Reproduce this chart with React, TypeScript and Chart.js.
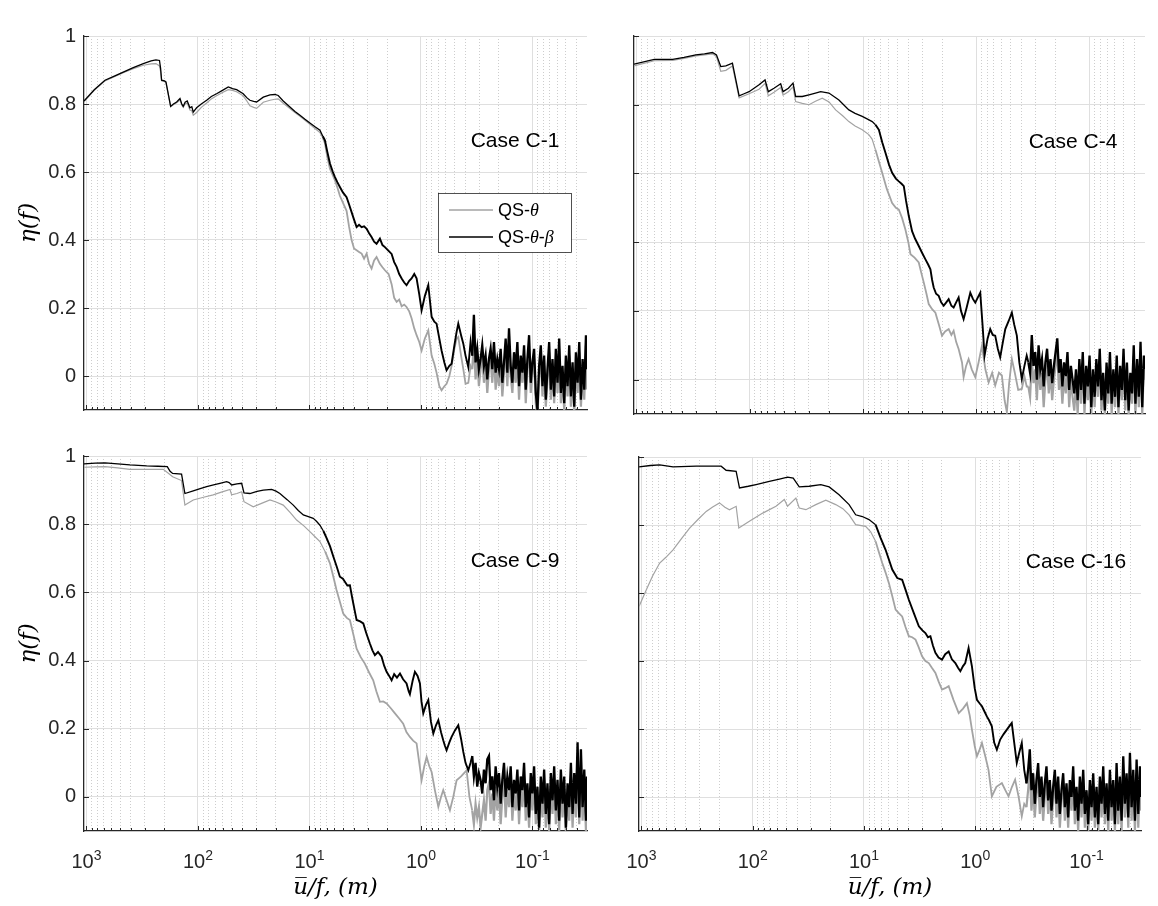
import { useEffect, useRef } from "react";
import { Chart, registerables } from "chart.js";

Chart.register(...registerables);

// u/f axis (m), drawn reversed on a log scale
const xMin = 0.0324;
const xMax = 1052;
const yMin = -0.1;
const yMax = 1;

const xTickValues = [
  1000, 900, 800, 700, 600, 500, 400, 300, 200, 100, 90, 80, 70, 60, 50, 40, 30, 20, 10, 9, 8, 7, 6, 5, 4, 3,
  2, 1, 0.9, 0.8, 0.7, 0.6, 0.5, 0.4, 0.3, 0.2, 0.1, 0.09, 0.08, 0.07, 0.06, 0.05, 0.04,
];
const decadeValues = [1000, 100, 10, 1, 0.1];
const decadeExponents = ["3", "2", "1", "0", "-1"];
const yTicks = [0, 0.2, 0.4, 0.6, 0.8, 1];

const seriesNames = ["QS-θ", "QS-θ-β"];
const caseLabels = ["Case C-1", "Case C-4", "Case C-9", "Case C-16"];

// log10(u/f) of the dense high-frequency tail shared by all curves
const noiseLogX = [
  -0.46, -0.475, -0.49, -0.505, -0.52, -0.535, -0.55, -0.565, -0.58, -0.595,
  -0.61, -0.625, -0.64, -0.655, -0.67, -0.685, -0.7, -0.715, -0.73, -0.745,
  -0.76, -0.775, -0.79, -0.805, -0.82, -0.835, -0.85, -0.865, -0.88, -0.895,
  -0.91, -0.925, -0.94, -0.955, -0.97, -0.985, -1.0, -1.015, -1.03, -1.045,
  -1.06, -1.075, -1.09, -1.105, -1.12, -1.135, -1.15, -1.165, -1.18, -1.195,
  -1.21, -1.225, -1.24, -1.255, -1.27, -1.285, -1.3, -1.315, -1.33, -1.345,
  -1.36, -1.375, -1.39, -1.405, -1.42, -1.435, -1.45, -1.465, -1.48, -1.489,
];

// [log10(u/f), eta], followed by its tail on noiseLogX

// Case C-1
const c1Theta = [
  [3.022, 0.807], [2.93, 0.84], [2.834, 0.868], [2.75, 0.88], [2.67, 0.892], [2.58, 0.904], [2.49, 0.914],
  [2.42, 0.918], [2.377, 0.919], [2.345, 0.912], [2.335, 0.895], [2.326, 0.868], [2.3, 0.866], [2.287, 0.863],
  [2.245, 0.792], [2.22, 0.798], [2.191, 0.804], [2.161, 0.812], [2.145, 0.797], [2.132, 0.79], [2.115, 0.8],
  [2.096, 0.803], [2.072, 0.782], [2.055, 0.78], [2.042, 0.767], [2.012, 0.775], [1.97, 0.79], [1.922, 0.803],
  [1.88, 0.815], [1.833, 0.824], [1.78, 0.834], [1.728, 0.842], [1.69, 0.84], [1.653, 0.836], [1.594, 0.824],
  [1.56, 0.808], [1.534, 0.795], [1.5, 0.79], [1.474, 0.787], [1.414, 0.805], [1.354, 0.811], [1.31, 0.814],
  [1.28, 0.815], [1.235, 0.802], [1.175, 0.787], [1.13, 0.775], [1.085, 0.764], [1.04, 0.752], [0.996, 0.74],
  [0.95, 0.728], [0.906, 0.716], [0.88, 0.7], [0.861, 0.685], [0.84, 0.645], [0.816, 0.61], [0.79, 0.59],
  [0.771, 0.575], [0.75, 0.555], [0.727, 0.53], [0.7, 0.51], [0.667, 0.486], [0.645, 0.44], [0.622, 0.4],
  [0.6, 0.375], [0.577, 0.37], [0.555, 0.365], [0.532, 0.36], [0.51, 0.345], [0.487, 0.36], [0.465, 0.33],
  [0.443, 0.316], [0.42, 0.34], [0.398, 0.35], [0.368, 0.33], [0.345, 0.32], [0.323, 0.311], [0.29, 0.3],
  [0.263, 0.27], [0.24, 0.23], [0.218, 0.218], [0.195, 0.225], [0.173, 0.205], [0.15, 0.21], [0.129, 0.203],
  [0.105, 0.19], [0.084, 0.17], [0.06, 0.14], [0.039, 0.12], [0.015, 0.1], [-0.006, 0.075], [-0.035, 0.11],
  [-0.066, 0.134], [-0.096, 0.06], [-0.12, 0.036], [-0.14, 0.01], [-0.165, -0.03], [-0.185, -0.042],
  [-0.21, -0.03], [-0.23, -0.023], [-0.255, 0.0], [-0.275, 0.03], [-0.3, 0.08], [-0.32, 0.11], [-0.335, 0.115],
  [-0.36, 0.06], [-0.38, 0.02], [-0.4, -0.023], [-0.425, -0.02], [-0.445, 0.03],
];
const c1ThetaTail = [
  0.02, 0.1, -0.01, 0.05, -0.03, 0.02, 0.06, -0.02, 0.04, -0.05,
  0.02, 0.05, -0.02, 0.07, -0.04, 0.02, -0.03, 0.05, -0.06, 0.01,
  0.08, -0.03, 0.09, 0.0, -0.05, 0.04, -0.02, 0.06, -0.07, 0.03,
  -0.02, 0.06, -0.08, 0.02, 0.08, -0.05, 0.01, 0.05, -0.08, -0.12,
  0.0, 0.06, -0.06, 0.03, -0.09, -0.01, 0.07, -0.07, 0.02, -0.08,
  0.05, -0.05, 0.08, -0.08, 0.0, -0.1, 0.03, -0.06, 0.06, -0.09,
  0.01, -0.11, 0.04, -0.05, 0.07, -0.09, 0.02, -0.07, 0.09, -0.04,
];
const c1Beta = [
  [3.022, 0.809], [2.93, 0.842], [2.834, 0.87], [2.75, 0.882], [2.67, 0.894], [2.58, 0.907], [2.49, 0.919],
  [2.42, 0.927], [2.377, 0.93], [2.345, 0.928], [2.335, 0.905], [2.326, 0.87], [2.3, 0.868], [2.287, 0.865],
  [2.245, 0.793], [2.22, 0.8], [2.191, 0.806], [2.161, 0.816], [2.145, 0.8], [2.132, 0.793], [2.115, 0.805],
  [2.096, 0.809], [2.072, 0.789], [2.055, 0.792], [2.042, 0.776], [2.012, 0.789], [1.97, 0.8], [1.922, 0.811],
  [1.88, 0.822], [1.833, 0.83], [1.78, 0.84], [1.728, 0.85], [1.69, 0.845], [1.653, 0.842], [1.594, 0.83],
  [1.56, 0.818], [1.534, 0.811], [1.5, 0.808], [1.474, 0.806], [1.414, 0.82], [1.354, 0.827], [1.31, 0.828],
  [1.28, 0.825], [1.235, 0.809], [1.175, 0.791], [1.13, 0.778], [1.085, 0.767], [1.04, 0.755], [0.996, 0.744],
  [0.95, 0.733], [0.906, 0.723], [0.88, 0.705], [0.861, 0.693], [0.84, 0.66], [0.816, 0.625], [0.79, 0.6],
  [0.771, 0.585], [0.75, 0.57], [0.727, 0.556], [0.7, 0.54], [0.667, 0.526], [0.645, 0.505], [0.622, 0.482],
  [0.6, 0.46], [0.577, 0.438], [0.555, 0.445], [0.532, 0.438], [0.51, 0.44], [0.487, 0.433], [0.465, 0.42],
  [0.443, 0.409], [0.42, 0.395], [0.398, 0.389], [0.368, 0.404], [0.345, 0.385], [0.323, 0.379], [0.29, 0.368],
  [0.263, 0.359], [0.24, 0.335], [0.218, 0.321], [0.195, 0.3], [0.173, 0.287], [0.15, 0.275], [0.129, 0.267],
  [0.105, 0.28], [0.084, 0.287], [0.06, 0.3], [0.039, 0.287], [0.015, 0.24], [-0.006, 0.193], [-0.035, 0.235],
  [-0.066, 0.267], [-0.096, 0.174], [-0.12, 0.16], [-0.14, 0.154], [-0.165, 0.11], [-0.185, 0.075],
  [-0.21, 0.04], [-0.23, 0.017], [-0.255, 0.03], [-0.275, 0.036], [-0.3, 0.09], [-0.32, 0.13], [-0.335, 0.154],
  [-0.36, 0.12], [-0.38, 0.095], [-0.4, 0.06], [-0.425, 0.026], [-0.445, 0.1],
];
const c1BetaTail = [
  0.06, 0.18, 0.04, 0.08, 0.02, 0.05, 0.09, 0.03, 0.06, -0.01,
  0.05, 0.08, 0.02, 0.1, 0.01, 0.05, 0.02, 0.08, -0.02, 0.04,
  0.11, 0.01, 0.14, 0.03, -0.02, 0.07, 0.02, 0.1, -0.03, 0.06,
  0.01, 0.09, -0.04, 0.05, 0.12, -0.02, 0.04, 0.08, -0.05, -0.1,
  0.03, 0.09, -0.03, 0.06, -0.07, 0.02, 0.1, -0.04, 0.05, -0.06,
  0.08, -0.02, 0.11, -0.05, 0.03, -0.08, 0.06, -0.03, 0.09, -0.06,
  0.04, -0.09, 0.07, -0.02, 0.1, -0.07, 0.05, -0.04, 0.12, 0.02,
];

// Case C-4
const c4Theta = [
  [3.022, 0.913], [2.843, 0.928], [2.681, 0.929], [2.58, 0.935], [2.476, 0.942], [2.4, 0.945], [2.329, 0.948],
  [2.294, 0.94], [2.256, 0.897], [2.211, 0.9], [2.153, 0.913], [2.094, 0.82], [2.006, 0.832], [1.918, 0.845],
  [1.865, 0.862], [1.836, 0.826], [1.786, 0.836], [1.727, 0.85], [1.706, 0.828], [1.659, 0.838], [1.618, 0.852],
  [1.595, 0.809], [1.536, 0.804], [1.477, 0.8], [1.42, 0.81], [1.36, 0.819], [1.3, 0.808], [1.242, 0.785],
  [1.18, 0.768], [1.125, 0.751], [1.07, 0.738], [1.007, 0.727], [0.949, 0.713], [0.92, 0.7], [0.89, 0.669],
  [0.86, 0.635], [0.831, 0.602], [0.79, 0.555], [0.743, 0.514], [0.71, 0.5], [0.684, 0.495], [0.655, 0.47],
  [0.626, 0.437], [0.6, 0.4], [0.581, 0.365], [0.545, 0.355], [0.508, 0.341], [0.485, 0.31], [0.464, 0.283],
  [0.44, 0.25], [0.42, 0.22], [0.39, 0.205], [0.361, 0.195], [0.33, 0.16], [0.303, 0.128], [0.275, 0.14],
  [0.244, 0.147], [0.22, 0.13], [0.2, 0.142], [0.178, 0.11], [0.156, 0.089], [0.126, 0.05], [0.112, 0.007],
  [0.09, 0.04], [0.068, 0.06], [0.04, 0.03], [0.009, 0.007], [-0.02, 0.05], [-0.05, 0.099], [-0.08, 0.03],
  [-0.109, -0.008], [-0.14, 0.02], [-0.167, -0.017], [-0.2, 0.02], [-0.226, 0.012], [-0.25, -0.06],
  [-0.27, -0.095], [-0.29, -0.01], [-0.314, 0.06], [-0.34, 0.02], [-0.37, -0.03], [-0.402, -0.027],
  [-0.425, 0.01], [-0.445, -0.02],
];
const c4ThetaTail = [
  -0.02, -0.05, 0.06, -0.01, 0.03, -0.06, 0.05, -0.03, 0.02, -0.08,
  0.0, 0.05, -0.04, 0.02, -0.06, 0.0, 0.04, 0.08, -0.03, 0.02,
  -0.07, 0.01, -0.04, 0.05, -0.08, 0.0, -0.05, -0.09, -0.01, -0.1,
  0.02, -0.07, 0.05, -0.1, 0.0, -0.06, 0.04, -0.1, -0.01, -0.08,
  0.03, -0.05, 0.06, -0.09, -0.01, -0.1, 0.02, -0.07, 0.05, -0.1,
  0.0, -0.08, 0.04, -0.1, 0.01, -0.06, 0.06, -0.09, 0.02, -0.1,
  -0.01, -0.07, 0.07, -0.1, 0.03, -0.08, 0.08, -0.1, 0.04, 0.0,
];
const c4Beta = [
  [3.022, 0.918], [2.843, 0.932], [2.681, 0.932], [2.58, 0.938], [2.476, 0.945], [2.4, 0.948], [2.329, 0.952],
  [2.294, 0.945], [2.256, 0.911], [2.211, 0.913], [2.153, 0.921], [2.094, 0.826], [2.05, 0.832], [2.006, 0.838],
  [1.918, 0.858], [1.865, 0.872], [1.836, 0.838], [1.786, 0.848], [1.727, 0.861], [1.706, 0.838], [1.659, 0.848],
  [1.618, 0.863], [1.595, 0.824], [1.536, 0.824], [1.477, 0.829], [1.42, 0.834], [1.374, 0.838], [1.301, 0.834],
  [1.213, 0.814], [1.125, 0.785], [1.07, 0.775], [1.007, 0.766], [0.96, 0.758], [0.919, 0.751], [0.89, 0.742],
  [0.86, 0.727], [0.83, 0.69], [0.802, 0.66], [0.77, 0.625], [0.743, 0.602], [0.71, 0.585], [0.684, 0.577],
  [0.66, 0.57], [0.64, 0.563], [0.62, 0.52], [0.596, 0.476], [0.567, 0.432], [0.54, 0.41], [0.508, 0.389],
  [0.48, 0.37], [0.449, 0.35], [0.425, 0.335], [0.405, 0.321], [0.39, 0.29], [0.376, 0.268], [0.355, 0.25],
  [0.332, 0.244], [0.31, 0.225], [0.288, 0.215], [0.265, 0.225], [0.244, 0.234], [0.22, 0.215], [0.2, 0.21],
  [0.178, 0.225], [0.156, 0.239], [0.135, 0.2], [0.112, 0.176], [0.085, 0.21], [0.053, 0.253], [0.03, 0.235],
  [0.009, 0.224], [-0.015, 0.24], [-0.035, 0.253], [-0.055, 0.16], [-0.073, 0.07], [-0.1, 0.12],
  [-0.123, 0.147], [-0.145, 0.13], [-0.167, 0.128], [-0.19, 0.09], [-0.211, 0.065], [-0.235, 0.11],
  [-0.256, 0.147], [-0.285, 0.17], [-0.314, 0.195], [-0.335, 0.16], [-0.358, 0.128], [-0.38, 0.05],
  [-0.402, 0.002], [-0.425, 0.04], [-0.445, 0.07],
];
const c4BetaTail = [
  0.05, 0.02, 0.13, 0.04, 0.08, 0.0, 0.1, 0.03, 0.06, -0.02,
  0.05, 0.09, 0.01, 0.06, -0.01, 0.04, 0.08, 0.12, 0.02, 0.06,
  -0.02, 0.05, 0.01, 0.08, -0.03, 0.04, 0.0, -0.04, 0.03, -0.06,
  0.06, -0.03, 0.08, -0.07, 0.04, -0.02, 0.07, -0.08, 0.03, -0.05,
  0.06, -0.02, 0.09, -0.06, 0.02, -0.09, 0.05, -0.04, 0.08, -0.07,
  0.03, -0.05, 0.07, -0.08, 0.04, -0.03, 0.09, -0.06, 0.05, -0.09,
  0.02, -0.04, 0.1, -0.07, 0.06, -0.05, 0.11, -0.08, 0.07, 0.03,
];

// Case C-9
const c9Theta = [
  [3.022, 0.967], [2.92, 0.968], [2.834, 0.969], [2.72, 0.965], [2.61, 0.961], [2.46, 0.961], [2.311, 0.961],
  [2.26, 0.948], [2.227, 0.939], [2.147, 0.928], [2.117, 0.856], [2.042, 0.871], [1.95, 0.879], [1.863, 0.886],
  [1.79, 0.894], [1.713, 0.902], [1.698, 0.886], [1.65, 0.89], [1.608, 0.895], [1.587, 0.866], [1.504, 0.851],
  [1.43, 0.861], [1.354, 0.871], [1.3, 0.865], [1.235, 0.856], [1.17, 0.833], [1.115, 0.812], [1.05, 0.795],
  [0.996, 0.778], [0.95, 0.763], [0.906, 0.749], [0.86, 0.72], [0.816, 0.685], [0.785, 0.645], [0.757, 0.607],
  [0.725, 0.57], [0.697, 0.538], [0.665, 0.525], [0.637, 0.519], [0.605, 0.475], [0.577, 0.435], [0.54, 0.41],
  [0.503, 0.391], [0.465, 0.365], [0.428, 0.342], [0.4, 0.31], [0.368, 0.279], [0.338, 0.28], [0.308, 0.274],
  [0.27, 0.26], [0.233, 0.245], [0.195, 0.23], [0.159, 0.215], [0.13, 0.19], [0.099, 0.176], [0.07, 0.165],
  [0.039, 0.157], [0.015, 0.1], [-0.006, 0.049], [-0.03, 0.09], [-0.051, 0.117], [-0.075, 0.09],
  [-0.096, 0.073], [-0.125, 0.02], [-0.156, -0.029], [-0.18, 0.0], [-0.2, 0.02], [-0.23, -0.01],
  [-0.26, -0.039], [-0.29, 0.0], [-0.32, 0.049], [-0.36, 0.06], [-0.41, 0.078], [-0.435, 0.0],
];
const c9ThetaTail = [
  -0.04, -0.08, -0.02, -0.06, -0.03, -0.09, -0.05, -0.01, -0.07, 0.02,
  0.04, -0.05, 0.01, -0.07, 0.03, -0.04, 0.02, -0.08, 0.0, 0.05,
  -0.06, 0.02, -0.03, 0.05, -0.07, 0.01, -0.04, 0.04, -0.08, 0.02,
  -0.03, 0.06, -0.07, 0.0, -0.09, 0.03, -0.04, 0.05, -0.08, -0.01,
  -0.1, 0.02, -0.06, 0.04, -0.09, 0.0, -0.1, 0.03, -0.05, 0.05,
  -0.08, 0.01, -0.1, 0.04, -0.06, 0.02, -0.1, 0.0, -0.07, 0.06,
  -0.09, 0.03, -0.06, 0.1, -0.08, 0.08, -0.07, 0.04, -0.1, 0.02,
];
const c9Beta = [
  [3.022, 0.977], [2.92, 0.979], [2.834, 0.98], [2.72, 0.977], [2.61, 0.974], [2.46, 0.971], [2.36, 0.97],
  [2.275, 0.969], [2.25, 0.955], [2.227, 0.949], [2.147, 0.947], [2.117, 0.89], [2.042, 0.898], [1.98, 0.904],
  [1.922, 0.91], [1.86, 0.915], [1.803, 0.92], [1.743, 0.925], [1.72, 0.922], [1.698, 0.915], [1.65, 0.918],
  [1.608, 0.92], [1.587, 0.892], [1.534, 0.89], [1.47, 0.896], [1.414, 0.9], [1.339, 0.902], [1.3, 0.897],
  [1.265, 0.89], [1.2, 0.872], [1.145, 0.856], [1.1, 0.84], [1.055, 0.827], [1.01, 0.822], [0.966, 0.817],
  [0.935, 0.808], [0.906, 0.797], [0.875, 0.78], [0.846, 0.759], [0.815, 0.735], [0.786, 0.705], [0.755, 0.675],
  [0.727, 0.646], [0.7, 0.64], [0.682, 0.631], [0.66, 0.62], [0.637, 0.621], [0.62, 0.59], [0.607, 0.568],
  [0.59, 0.54], [0.577, 0.519], [0.545, 0.515], [0.517, 0.509], [0.49, 0.48], [0.458, 0.45], [0.435, 0.43],
  [0.413, 0.416], [0.385, 0.425], [0.353, 0.411], [0.33, 0.385], [0.308, 0.367], [0.285, 0.355], [0.263, 0.342],
  [0.24, 0.36], [0.215, 0.35], [0.188, 0.362], [0.16, 0.345], [0.129, 0.333], [0.11, 0.31], [0.099, 0.301],
  [0.075, 0.34], [0.054, 0.367], [0.03, 0.355], [0.009, 0.333], [-0.005, 0.28], [-0.021, 0.245],
  [-0.045, 0.27], [-0.066, 0.284], [-0.09, 0.22], [-0.111, 0.186], [-0.135, 0.21], [-0.156, 0.225],
  [-0.18, 0.19], [-0.2, 0.166], [-0.215, 0.15], [-0.23, 0.137], [-0.255, 0.16], [-0.275, 0.176],
  [-0.305, 0.195], [-0.335, 0.21], [-0.36, 0.17], [-0.38, 0.132], [-0.4, 0.1], [-0.425, 0.078], [-0.445, 0.1],
];
const c9BetaTail = [
  0.12, 0.06, 0.1, 0.03, 0.07, 0.05, 0.01, 0.08, 0.04, 0.11,
  0.12, 0.02, 0.06, -0.01, 0.09, 0.03, 0.07, -0.02, 0.05, 0.1,
  0.0, 0.06, 0.02, 0.09, -0.03, 0.05, 0.01, 0.08, -0.04, 0.06,
  0.02, 0.1, -0.03, 0.04, -0.06, 0.07, 0.01, 0.09, -0.05, 0.03,
  -0.09, 0.06, -0.02, 0.08, -0.05, 0.04, -0.08, 0.07, -0.01, 0.09,
  -0.04, 0.05, -0.07, 0.08, -0.02, 0.06, -0.09, 0.04, -0.03, 0.1,
  -0.05, 0.07, -0.02, 0.16, -0.06, 0.14, -0.03, 0.08, -0.07, 0.06,
];

// Case C-16
const c16Theta = [
  [3.021, 0.561], [2.955, 0.61], [2.9, 0.65], [2.836, 0.688], [2.78, 0.705], [2.716, 0.727], [2.64, 0.76],
  [2.567, 0.791], [2.49, 0.817], [2.418, 0.84], [2.36, 0.853], [2.299, 0.865], [2.25, 0.852], [2.209, 0.845],
  [2.149, 0.855], [2.125, 0.791], [2.03, 0.811], [1.91, 0.835], [1.791, 0.855], [1.716, 0.875], [1.687, 0.855],
  [1.612, 0.879], [1.582, 0.85], [1.522, 0.845], [1.433, 0.86], [1.343, 0.873], [1.254, 0.86], [1.19, 0.848],
  [1.134, 0.83], [1.075, 0.801], [0.985, 0.796], [0.94, 0.78], [0.896, 0.752], [0.866, 0.72], [0.836, 0.688],
  [0.806, 0.66], [0.776, 0.629], [0.745, 0.59], [0.716, 0.551], [0.685, 0.54], [0.657, 0.531], [0.627, 0.5],
  [0.597, 0.473], [0.567, 0.47], [0.537, 0.463], [0.508, 0.44], [0.478, 0.414], [0.448, 0.4], [0.418, 0.394],
  [0.39, 0.38], [0.358, 0.365], [0.33, 0.34], [0.299, 0.316], [0.27, 0.32], [0.239, 0.326], [0.195, 0.285],
  [0.149, 0.247], [0.11, 0.26], [0.075, 0.276], [0.05, 0.24], [0.03, 0.198], [0.005, 0.15], [-0.015, 0.12],
  [-0.04, 0.14], [-0.06, 0.159], [-0.09, 0.12], [-0.119, 0.08], [-0.149, 0.002], [-0.19, 0.03], [-0.239, 0.041],
  [-0.27, 0.02], [-0.299, 0.002], [-0.33, 0.03], [-0.358, 0.051], [-0.39, 0.0], [-0.418, -0.057], [-0.44, -0.02],
];
const c16ThetaTail = [
  -0.03, 0.02, 0.08, -0.04, 0.03, -0.06, 0.01, 0.06, -0.05, 0.02,
  -0.07, 0.0, 0.05, -0.05, 0.02, -0.08, -0.01, 0.05, -0.06, 0.02,
  -0.09, -0.01, 0.04, -0.07, 0.01, -0.09, 0.02, -0.04, 0.05, -0.08,
  -0.01, -0.1, 0.03, -0.06, 0.05, -0.09, -0.01, -0.1, 0.02, -0.07,
  0.04, -0.09, 0.0, -0.1, 0.03, -0.06, 0.06, -0.08, 0.01, -0.1,
  0.05, -0.07, 0.02, -0.1, 0.06, -0.08, 0.03, -0.1, 0.08, -0.06,
  0.04, -0.09, 0.09, -0.07, 0.05, -0.1, 0.07, -0.09, 0.06, -0.04,
];
const c16Beta = [
  [3.021, 0.971], [2.92, 0.975], [2.836, 0.977], [2.716, 0.971], [2.507, 0.973], [2.284, 0.973], [2.239, 0.961],
  [2.149, 0.958], [2.119, 0.909], [2.04, 0.914], [1.97, 0.919], [1.851, 0.928], [1.76, 0.935], [1.687, 0.941],
  [1.636, 0.938], [1.582, 0.912], [1.493, 0.914], [1.388, 0.919], [1.313, 0.912], [1.224, 0.889], [1.134, 0.86],
  [1.075, 0.83], [1.015, 0.825], [0.955, 0.816], [0.896, 0.801], [0.851, 0.762], [0.806, 0.727], [0.746, 0.669],
  [0.701, 0.644], [0.657, 0.639], [0.627, 0.61], [0.597, 0.58], [0.552, 0.541], [0.507, 0.502], [0.475, 0.49],
  [0.448, 0.482], [0.425, 0.47], [0.403, 0.473], [0.38, 0.445], [0.358, 0.424], [0.33, 0.41], [0.299, 0.404],
  [0.27, 0.42], [0.239, 0.428], [0.21, 0.405], [0.179, 0.394], [0.155, 0.38], [0.134, 0.37], [0.11, 0.385],
  [0.09, 0.394], [0.06, 0.438], [0.03, 0.384], [0.005, 0.32], [-0.015, 0.286], [-0.04, 0.275], [-0.06, 0.267],
  [-0.085, 0.25], [-0.104, 0.237], [-0.125, 0.225], [-0.149, 0.208], [-0.17, 0.16], [-0.194, 0.139],
  [-0.224, 0.169], [-0.255, 0.185], [-0.284, 0.198], [-0.31, 0.21], [-0.328, 0.218], [-0.35, 0.16],
  [-0.373, 0.1], [-0.395, 0.13], [-0.418, 0.159], [-0.44, 0.08],
];
const c16BetaTail = [
  0.04, 0.08, 0.14, 0.02, 0.07, -0.02, 0.05, 0.1, 0.0, 0.06,
  -0.03, 0.04, 0.09, -0.01, 0.05, -0.04, 0.03, 0.08, -0.02, 0.06,
  -0.05, 0.02, 0.07, -0.03, 0.04, -0.06, 0.05, 0.0, 0.09, -0.04,
  0.03, -0.07, 0.06, -0.02, 0.08, -0.05, 0.02, -0.08, 0.05, -0.03,
  0.07, -0.06, 0.03, -0.08, 0.06, -0.02, 0.09, -0.05, 0.04, -0.07,
  0.08, -0.03, 0.05, -0.08, 0.1, -0.04, 0.06, -0.07, 0.12, -0.02,
  0.07, -0.06, 0.13, -0.03, 0.08, -0.07, 0.11, -0.05, 0.09, 0.0,
];

const thetaColor = "#a3a3a3";
const betaColor = "#000000";
const axisColor = "#262626";
const majorGrid = "#dfdfdf";
const minorGrid = "#cdcdcd";
const sansFont = '"Liberation Sans", Arial, sans-serif';
const mathFont = '"DejaVu Serif", serif';

type Panel = {
  caseLabel: string;
  theta: number[][];
  thetaTail: number[];
  beta: number[][];
  betaTail: number[];
  left: number;
  top: number;
  width: number;
  height: number;
  area: { left: number; top: number; right: number; bottom: number };
  yLabels: boolean;
  xLabels: boolean;
  legend: boolean;
  caseAt: [number, number];
};

const panels: Panel[] = [
  {
    caseLabel: caseLabels[0], theta: c1Theta, thetaTail: c1ThetaTail, beta: c1Beta, betaTail: c1BetaTail,
    left: 0, top: 0, width: 600, height: 450, area: { left: 84, top: 36, right: 587, bottom: 410 },
    yLabels: true, xLabels: false, legend: true, caseAt: [-72, 111],
  },
  {
    caseLabel: caseLabels[1], theta: c4Theta, thetaTail: c4ThetaTail, beta: c4Beta, betaTail: c4BetaTail,
    left: 600, top: 0, width: 558, height: 450, area: { left: 34, top: 36, right: 545, bottom: 414 },
    yLabels: false, xLabels: false, legend: false, caseAt: [-72, 112],
  },
  {
    caseLabel: caseLabels[2], theta: c9Theta, thetaTail: c9ThetaTail, beta: c9Beta, betaTail: c9BetaTail,
    left: 0, top: 420, width: 600, height: 486, area: { left: 84, top: 36, right: 587, bottom: 411 },
    yLabels: true, xLabels: true, legend: false, caseAt: [-72, 111],
  },
  {
    caseLabel: caseLabels[3], theta: c16Theta, thetaTail: c16ThetaTail, beta: c16Beta, betaTail: c16BetaTail,
    left: 600, top: 420, width: 558, height: 486, area: { left: 39, top: 37, right: 541, bottom: 411 },
    yLabels: false, xLabels: true, legend: false, caseAt: [-65, 111],
  },
];

const isDecade = (v?: number) =>
  v !== undefined && v > 0 && Math.abs(Math.log10(v) - Math.round(Math.log10(v))) < 1e-6;

const toPoints = (head: number[][], tail: number[]) => [
  ...head.map(([lx, y]) => ({ x: 10 ** lx, y })),
  ...tail.map((y, i) => ({ x: 10 ** noiseLogX[i], y })),
];

// the measured curves get rougher below ~8 m and turn into a dense band past ~0.35 m
const roughWidth = (base: number) => (c: any) => {
  const x = c.p0.parsed.x;
  if (x < 0.35) return base + 1.0;
  if (x < 8) return base + 0.6;
  return base;
};

// legend text: greek letters in italic serif, the rest in sans
function drawRich(ctx: CanvasRenderingContext2D, text: string, x: number, y: number) {
  let cx = x;
  for (const ch of text) {
    const greek = /[\u0370-\u03ff]/.test(ch);
    ctx.font = greek ? 'italic 18px "Liberation Serif", serif' : `18px ${sansFont}`;
    ctx.fillText(ch, cx, y);
    cx += ctx.measureText(ch).width;
  }
}

const decorPlugin = (p: Panel) => ({
  id: "decor",
  afterDraw(chart: Chart) {
    const { ctx, chartArea: a } = chart;
    const xs = chart.scales.x;
    const ys = chart.scales.y;
    ctx.save();

    // ticks point inward, MATLAB style
    ctx.strokeStyle = axisColor;
    ctx.lineWidth = 1;
    ctx.beginPath();
    xs.ticks.forEach((t) => {
      const px = Math.round(xs.getPixelForValue(t.value)) + 0.5;
      ctx.moveTo(px, a.bottom);
      ctx.lineTo(px, a.bottom - (isDecade(t.value) ? 5 : 3));
    });
    ys.ticks.forEach((t) => {
      const py = Math.round(ys.getPixelForValue(t.value)) + 0.5;
      ctx.moveTo(a.left, py);
      ctx.lineTo(a.left + 5, py);
    });
    ctx.stroke();

    if (p.xLabels) {
      const baseFont = `20px ${sansFont}`;
      const expFont = `14px ${sansFont}`;
      ctx.fillStyle = axisColor;
      ctx.textAlign = "left";
      ctx.textBaseline = "alphabetic";
      decadeValues.forEach((v, i) => {
        const px = xs.getPixelForValue(v);
        ctx.font = baseFont;
        const w1 = ctx.measureText("10").width;
        ctx.font = expFont;
        const w2 = ctx.measureText(decadeExponents[i]).width;
        const x0 = px - (w1 + w2) / 2;
        ctx.font = baseFont;
        ctx.fillText("10", x0, a.bottom + 37);
        ctx.font = expFont;
        ctx.fillText(decadeExponents[i], x0 + w1, a.bottom + 29);
      });
    }

    ctx.fillStyle = "#000";
    ctx.font = `21px ${sansFont}`;
    ctx.textAlign = "center";
    ctx.textBaseline = "alphabetic";
    ctx.fillText(p.caseLabel, a.right + p.caseAt[0], a.top + p.caseAt[1]);

    if (p.legend) {
      const bx = a.right - 149;
      const by = a.top + 157;
      ctx.fillStyle = "#fff";
      ctx.fillRect(bx, by, 133, 59);
      ctx.strokeStyle = axisColor;
      ctx.lineWidth = 0.8;
      ctx.strokeRect(bx + 0.5, by + 0.5, 133, 59);
      chart.data.datasets.forEach((ds, i) => {
        const ly = by + 17 + i * 27;
        ctx.strokeStyle = ds.borderColor as string;
        ctx.lineWidth = 1.3;
        ctx.beginPath();
        ctx.moveTo(bx + 11, ly);
        ctx.lineTo(bx + 55, ly);
        ctx.stroke();
        ctx.fillStyle = "#000";
        ctx.textAlign = "left";
        drawRich(ctx, ds.label ?? "", bx + 60, ly + 6);
      });
    }
    ctx.restore();
  },
});

function PanelChart({ p }: { p: Panel }) {
  const canvasRef = useRef<HTMLCanvasElement | null>(null);

  useEffect(() => {
    if (!canvasRef.current) return;
    const chart = new Chart(canvasRef.current, {
      type: "line",
      data: {
        datasets: [
          {
            label: seriesNames[0],
            data: toPoints(p.theta, p.thetaTail),
            borderColor: thetaColor,
            borderWidth: 1.2,
            segment: { borderWidth: roughWidth(1.2) },
            pointRadius: 0,
            tension: 0,
            fill: false,
            order: 1,
          },
          {
            label: seriesNames[1],
            data: toPoints(p.beta, p.betaTail),
            borderColor: betaColor,
            borderWidth: 1.3,
            segment: { borderWidth: roughWidth(1.3) },
            pointRadius: 0,
            tension: 0,
            fill: false,
            order: 0,
          },
        ],
      },
      options: {
        animation: false,
        responsive: true,
        maintainAspectRatio: false,
        events: [],
        layout: { padding: { left: 0, top: p.area.top, right: p.width - p.area.right, bottom: 0 } },
        plugins: { legend: { display: false }, tooltip: { enabled: false } },
        scales: {
          x: {
            type: "logarithmic",
            reverse: true,
            min: xMin,
            max: xMax,
            afterBuildTicks: (s: any) => {
              s.ticks = xTickValues.map((v) => ({ value: v }));
            },
            afterFit: (s: any) => {
              s.height = p.height - p.area.bottom;
            },
            grid: {
              drawTicks: false,
              lineWidth: 1,
              color: (c: any) => (isDecade(c.tick?.value) ? majorGrid : minorGrid),
            },
            border: {
              display: true,
              color: axisColor,
              width: 1.3,
              dash: (c: any) => (c.tick && !isDecade(c.tick.value) ? [1, 2] : []),
            },
            ticks: { display: false, autoSkip: false },
            title: {
              display: p.xLabels,
              text: "u\u0305/f, (m)",
              color: "#000",
              font: { family: mathFont, style: "italic", size: 23 },
              padding: { top: 0, bottom: 4 },
            },
          },
          y: {
            type: "linear",
            min: yMin,
            max: yMax,
            afterBuildTicks: (s: any) => {
              s.ticks = yTicks.map((v) => ({ value: v }));
            },
            afterFit: (s: any) => {
              s.width = p.area.left;
            },
            grid: { drawTicks: false, lineWidth: 1, color: majorGrid },
            border: { display: true, color: axisColor, width: 1.3 },
            ticks: {
              display: p.yLabels,
              autoSkip: false,
              padding: 8,
              color: axisColor,
              font: { family: sansFont, size: 20 },
              callback: (v: any) => String(v),
            },
            title: {
              display: p.yLabels,
              text: "η(f)",
              color: "#000",
              font: { family: mathFont, style: "italic", size: 23 },
              padding: { top: 15, bottom: 0 },
            },
          },
        },
      },
      plugins: [decorPlugin(p)],
    });
    return () => chart.destroy();
  }, [p]);

  return (
    <div style={{ position: "absolute", left: p.left, top: p.top, width: p.width, height: p.height }}>
      <canvas ref={canvasRef} />
    </div>
  );
}

export default function App() {
  return (
    <div style={{ position: "absolute", left: 0, top: 0, width: 1158, height: 906, background: "#fff" }}>
      {panels.map((p) => (
        <PanelChart key={p.caseLabel} p={p} />
      ))}
    </div>
  );
}
